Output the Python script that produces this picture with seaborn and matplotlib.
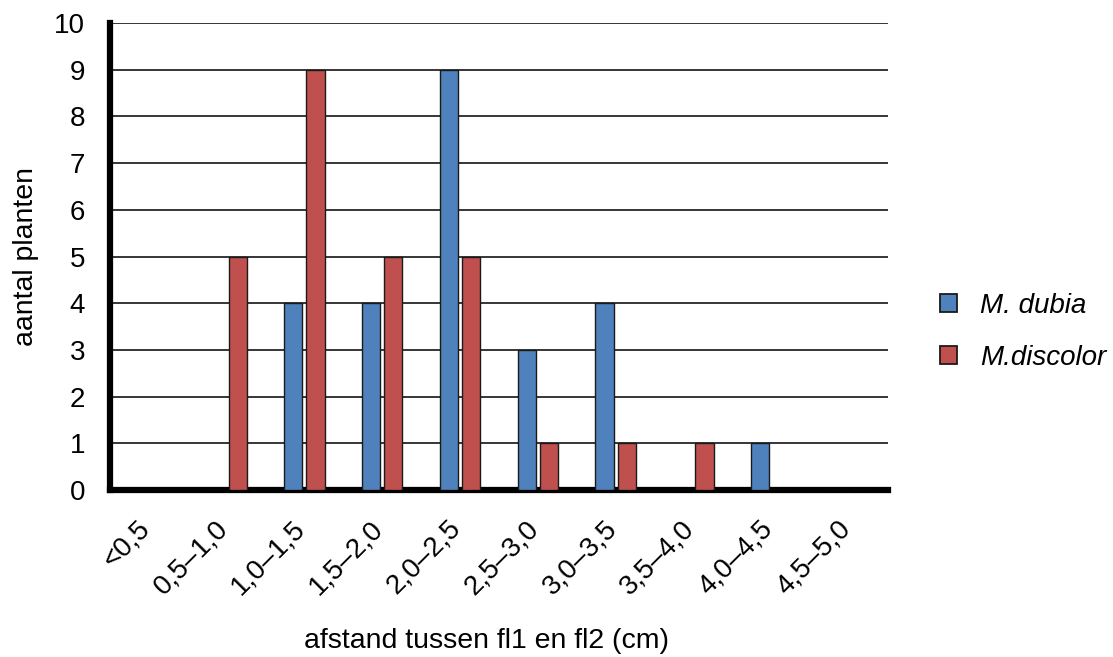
import seaborn as sns
import matplotlib.pyplot as plt
import matplotlib.transforms as mtransforms
import pandas as pd
from matplotlib.patches import Patch

# data
klassen = ['<0,5', '0,5–1,0', '1,0–1,5', '1,5–2,0', '2,0–2,5',
           '2,5–3,0', '3,0–3,5', '3,5–4,0', '4,0–4,5', '4,5–5,0']
dubia = [0, 0, 4, 4, 9, 3, 4, 0, 1, 0]
discolor = [0, 5, 9, 5, 5, 1, 1, 1, 0, 0]
soorten = ['M. dubia', 'M.discolor']
kleuren = ['#4F81BD', '#C0504D']

df = pd.DataFrame({
    'klasse': klassen * 2,
    'aantal': dubia + discolor,
    'soort': [soorten[0]] * len(klassen) + [soorten[1]] * len(klassen),
})

sns.set_style("white")
plt.rcParams['font.family'] = ['Liberation Sans', 'DejaVu Sans']
plt.rcParams['text.color'] = 'black'
plt.rcParams['axes.labelcolor'] = 'black'

fig = plt.figure(figsize=(11.13, 6.57), dpi=100)
ax = fig.add_axes([0.0988, 0.254, 0.699, 0.711])

sns.barplot(data=df, x='klasse', y='aantal', hue='soort', order=klassen,
            hue_order=soorten, palette=kleuren, width=0.57, gap=0.18,
            edgecolor='#1a1a1a', linewidth=1.0, saturation=1, ax=ax, zorder=3)

ax.set_ylim(0, 10)
ax.set_xlim(-0.5, len(klassen) - 0.5)
ax.set_yticks(range(0, 11))
ax.yaxis.grid(True, color='black', linewidth=1.1, zorder=0)
ax.set_axisbelow(True)

for s in ['top', 'right']:
    ax.spines[s].set_visible(False)
for s in ['left', 'bottom']:
    ax.spines[s].set_linewidth(4.5)
    ax.spines[s].set_color('black')

ax.tick_params(axis='both', length=0, labelsize=20, colors='black')
ax.tick_params(axis='y', pad=18)
ax.tick_params(axis='x', pad=8)
# schuif de schuine labels iets naar links en omlaag
offset = mtransforms.ScaledTranslation(-12 / 100, -14 / 100, fig.dpi_scale_trans)
for lbl in ax.get_xticklabels():
    lbl.set_rotation(45)
    lbl.set_ha('right')
    lbl.set_rotation_mode('anchor')
    lbl.set_transform(lbl.get_transform() + offset)

ax.set_xlabel('afstand tussen fl1 en fl2 (cm)', fontsize=20.5, va='center')
ax.xaxis.set_label_coords(0.484, -0.323)
ax.set_ylabel('aantal planten', fontsize=20.5, va='center')
ax.yaxis.set_label_coords(-0.108, 0.5)

ax.get_legend().remove()
handles = [Patch(facecolor=c, edgecolor='#1a1a1a', linewidth=1.3) for c in kleuren]
fig.legend(handles, soorten, loc='center left', bbox_to_anchor=(0.822, 0.495),
           frameon=False, prop={'style': 'italic', 'size': 20},
           handlelength=0.6, handleheight=0.6, handletextpad=0.85, labelspacing=0.95)

fig.savefig('out.png', dpi=100)
